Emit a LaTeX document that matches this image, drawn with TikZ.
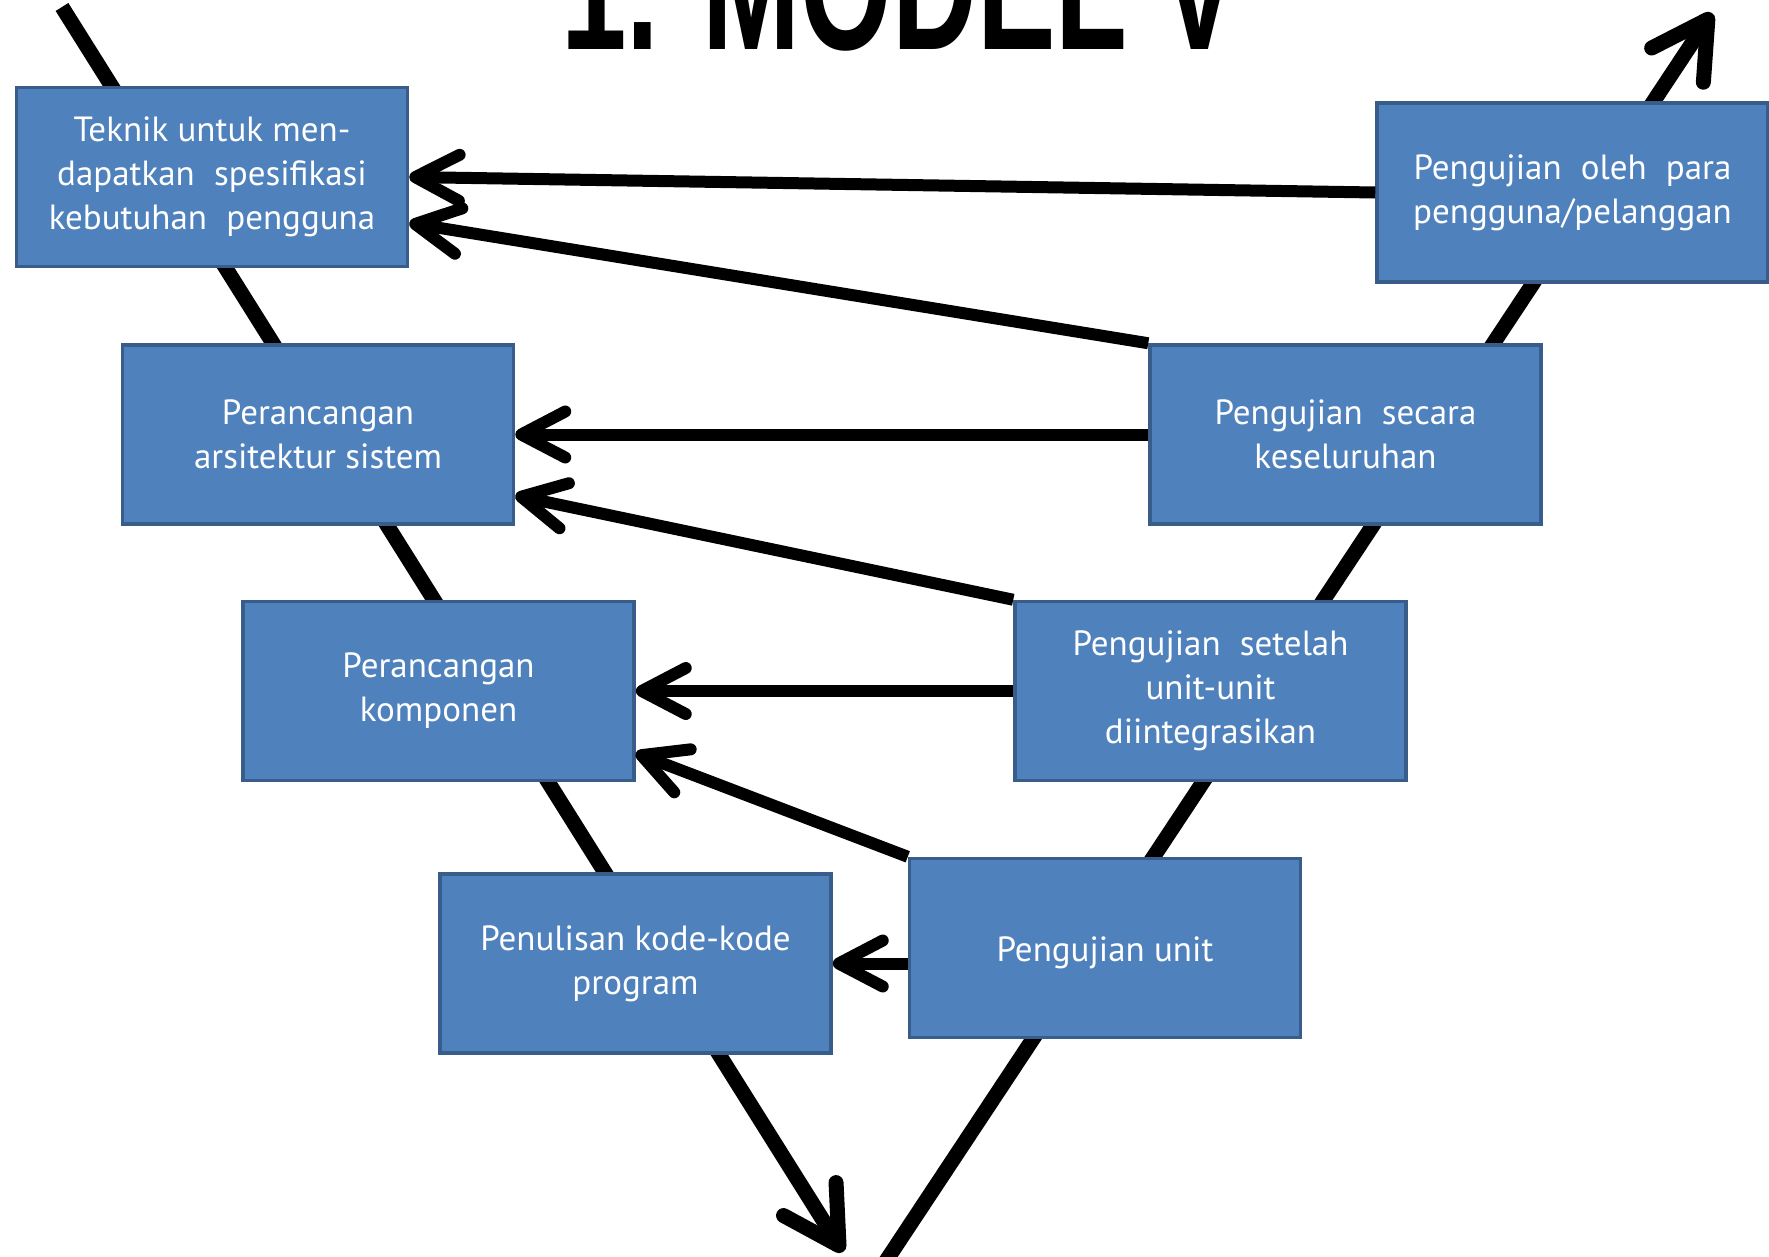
\documentclass[tikz,border=0pt]{standalone}
\usepackage{fontspec}
\setmainfont{PT Sans}
\newfontfamily\titlefont{Liberation Sans}
\usetikzlibrary{arrows.meta}
\definecolor{boxfill}{HTML}{4F81BD}
\definecolor{boxline}{HTML}{385D8A}
\newcommand\myds{\hspace{0.55em}}
\tikzset{
  stage/.style={draw=boxline, fill=boxfill, line width=3.5pt, minimum width=391pt,
    minimum height=179pt, inner sep=0pt, text=white, align=center,
    font=\fontsize{35}{44}\selectfont, execute at begin node={\rule{0pt}{35pt}}},
  fb/.style={line width=12pt, -{Straight Barb[length=44pt,width=46pt,round]}},
  vline/.style={line width=15pt, -{Straight Barb[length=55pt,width=62pt,round]}},
}
\begin{document}
\begin{tikzpicture}[x=1pt,y=-1pt]
\useasboundingbox (0,0) rectangle (1769,1256);
\clip (0,0) rectangle (1769,1256);
% V lines (behind boxes)
\coordinate (lt) at (62,7);
\coordinate (lb) at (843,1252);
\coordinate (rb) at (884,1264);
\coordinate (rt) at (1712,13);
\draw[vline] (lt) -- (lb);
\draw[vline] (rb) -- (rt);
% title
\node[anchor=base, inner sep=0pt] (title) at (900,49)
  {\titlefont\bfseries\fontsize{181}{200}\selectfont\scalebox{0.65}[1]{1. MODEL V}};
% boxes
\node[stage] (A) at (212,177) {Teknik untuk men-\\dapatkan\myds spesifikasi\\kebutuhan\myds pengguna};
\node[stage] (B) at (318,434.5) {Perancangan\\arsitektur sistem};
\node[stage] (C) at (438.5,691) {Perancangan\\komponen};
\node[stage] (D) at (635.5,963.5) {Penulisan kode-kode\\program};
\node[stage] (E) at (1105,948) {Pengujian unit};
\node[stage] (F) at (1210.5,691) {Pengujian\myds setelah\\unit-unit\\diintegrasikan};
\node[stage] (G) at (1345.5,434.5) {Pengujian\myds secara\\keseluruhan};
\node[stage] (H) at (1572.5,192.5) {\makebox[318pt][s]{Pengujian oleh para}\\pengguna/pelanggan};
% feedback arrows
\draw[fb] (H.west) -- (A.east);
\draw[fb] (G.north west) -- ([yshift=-46pt]A.east);
\draw[fb] (G.west) -- (B.east);
\draw[fb] (F.north west) -- ([yshift=-61pt]B.east);
\draw[fb] (F.west) -- (C.east);
\draw[fb] (E.north west) -- ([yshift=-62pt]C.east);
\draw[fb] (E.west |- D.east) -- (D.east);
\end{tikzpicture}
\end{document}
